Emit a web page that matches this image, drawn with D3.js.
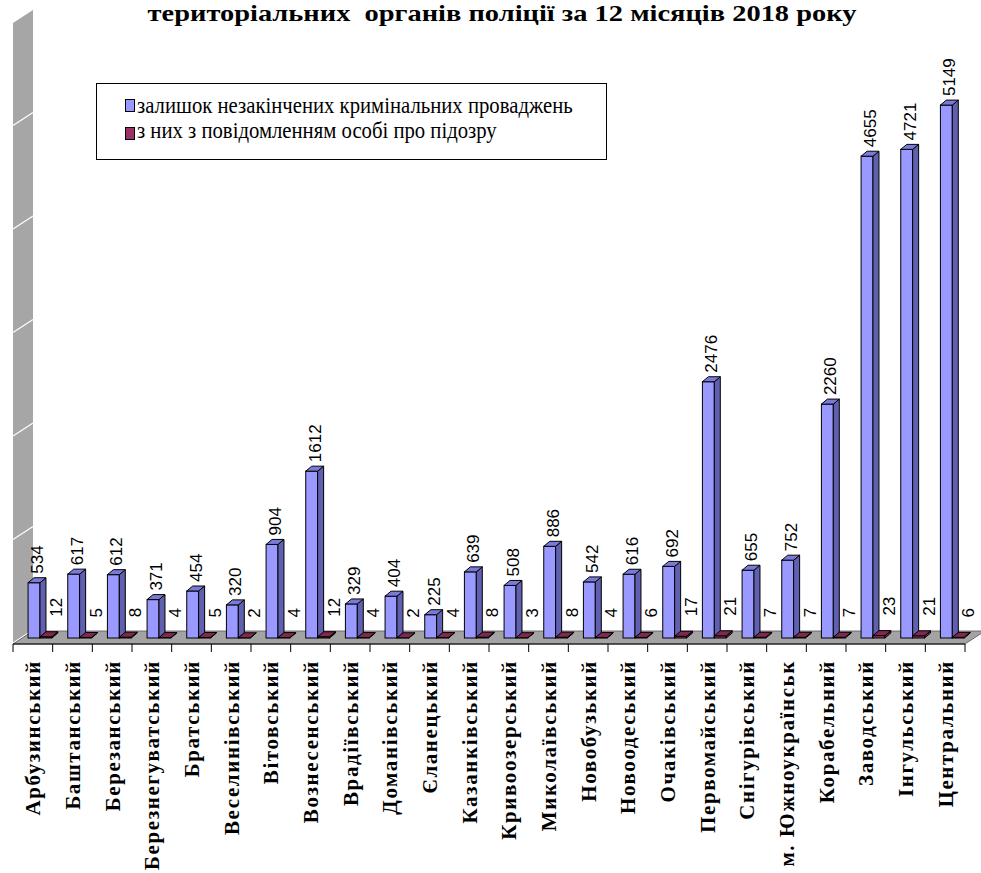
<!DOCTYPE html>
<html><head><meta charset="utf-8">
<script src="https://cdn.jsdelivr.net/npm/d3@7"></script>
<style>
body{margin:0;background:#fff}
text.serif{font-family:"Liberation Serif","Times New Roman",serif}
text.sans{font-family:"Liberation Sans",Arial,sans-serif}
</style></head>
<body><svg id="c" width="981" height="873"></svg>
<script>
const categories = ["Арбузинський","Баштанський","Березанський","Березнегуватський","Братський","Веселинівський","Вітовський","Вознесенський","Врадіївський","Доманівський","Єланецький","Казанківський","Кривоозерський","Миколаївський","Новобузький","Новоодеський","Очаківський","Первомайський","Снігурівський","м. Южноукраїнськ","Корабельний","Заводський","Інгульський","Центральний"];
const pending = [534,617,612,371,454,320,904,1612,329,404,225,639,508,886,542,616,692,2476,655,752,2260,4655,4721,5149];
const suspects = [12,5,8,4,5,2,4,12,4,2,4,8,3,8,4,6,17,21,7,7,7,23,21,6];
const yTicks = [0,1000,2000,3000,4000,5000,6000];
const titleText = "територіальних  органів поліції за 12 місяців 2018 року";
const seriesNames = ["залишок незакінчених кримінальних проваджень","з них з повідомленням особі про підозру"];

const svg = d3.select('#c');
const x = d3.scaleBand().domain(categories).range([13,965]);
const y = d3.scaleLinear().domain([0,6000]).range([638,17]);
const bw = x.bandwidth();
const W = {dx:20, dy:-13};   // wall / floor depth
const B = {dx:6, dy:-5};     // bar depth
const pts = a => a.map(p=>p.join(',')).join(' ');

// wall
const wall = svg.append('g');
wall.append('polygon')
  .attr('points', pts([[13,y(0)+6],[13,y(6000)+6],[13+W.dx,y(6000)+6+W.dy],[13+W.dx,y(0)+6+W.dy]]))
  .attr('fill','#a6a6a6');
wall.selectAll('line').data(yTicks.slice(0,-1)).join('line')
  .attr('x1',13).attr('x2',13+W.dx)
  .attr('y1',d=>y(d)+5).attr('y2',d=>y(d)+5+W.dy)
  .attr('stroke','#fff').attr('stroke-width',1.2);

// floor
const fy = y(0)+6;
svg.append('polygon')
  .attr('points',pts([[13,fy],[965,fy],[965+W.dx,fy+W.dy],[13+W.dx,fy+W.dy]]))
  .attr('fill','#a3a3a3').attr('stroke','#555').attr('stroke-width',0.8);

// x axis
svg.append('line').attr('x1',13).attr('x2',965).attr('y1',fy).attr('y2',fy).attr('stroke','#000');
const ticks = categories.map(c=>x(c)).concat([965]);
svg.selectAll('line.tk').data(ticks).join('line').attr('class','tk')
  .attr('x1',d=>d).attr('x2',d=>d).attr('y1',fy).attr('y2',fy+8).attr('stroke','#000');

function drawBars(vals, off, cols){
  const g = svg.append('g');
  vals.forEach((v,i)=>{
    const xl = x(categories[i]) + off*bw, w = 0.3*bw, xr = xl+w;
    const yt = y(v), yb = y(0);
    g.append('rect').attr('x',xl).attr('y',yt).attr('width',w).attr('height',yb-yt)
      .attr('fill',cols[0]).attr('stroke','#000').attr('stroke-width',1);
    g.append('polygon').attr('points',pts([[xr,yt],[xr+B.dx,yt+B.dy],[xr+B.dx,yb+B.dy],[xr,yb]]))
      .attr('fill',cols[1]).attr('stroke','#000').attr('stroke-width',1);
    g.append('polygon').attr('points',pts([[xl,yt],[xr,yt],[xr+B.dx,yt+B.dy],[xl+B.dx,yt+B.dy]]))
      .attr('fill',cols[2]).attr('stroke','#000').attr('stroke-width',1);
  });
}
drawBars(pending, 0.38, ['#9999ff','#6060b0','#7a7ad8']);
drawBars(suspects, 0.68, ['#993366','#6e2449','#80294f']);

// value labels
svg.append('g').selectAll('text').data(pending).join('text').attr('class','sans')
  .attr('transform',(d,i)=>`translate(${x(categories[i])+0.53*bw+3},${y(d)-9}) rotate(-90)`)
  .attr('dy','0.35em').attr('text-anchor','start')
  .attr('font-size',17)
  .text(d=>d);
svg.append('g').selectAll('text').data(suspects).join('text').attr('class','sans')
  .attr('transform',(d,i)=>`translate(${x(categories[i])+0.83*bw+10},${y(d)-20}) rotate(-90)`)
  .attr('dy','0.35em').attr('text-anchor','start')
  .attr('font-size',17)
  .text(d=>d);

// category labels
svg.append('g').selectAll('text').data(categories).join('text').attr('class','serif')
  .attr('transform',d=>`translate(${x(d)+bw/2},660) rotate(-90)`)
  .attr('dy','0.35em').attr('text-anchor','end')
  .attr('font-weight','bold')
  .attr('font-size',21).attr('letter-spacing','1.6px')
  .text(d=>d);

// title
svg.append('text').attr('class','serif').attr('x',502).attr('y',21).attr('text-anchor','middle')
  .attr('font-weight','bold').attr('font-size',23)
  .style('white-space','pre').text(titleText)
  .each(function(){ const L=this.getComputedTextLength(); if(L>0) d3.select(this).attr('transform',`translate(502,0) scale(${709/L},1) translate(-502,0)`); });

// legend
const lg = svg.append('g');
lg.append('rect').attr('x',96.5).attr('y',83.5).attr('width',510).attr('height',76)
  .attr('fill','#fff').attr('stroke','#000');
const lcols = ['#9999ff','#993366'];
const lw = [436,360];
seriesNames.forEach((n,i)=>{
  lg.append('rect').attr('x',125.5).attr('y',99.5+i*28).attr('width',9).attr('height',12)
    .attr('fill',lcols[i]).attr('stroke','#000');
  lg.append('text').attr('class','serif').attr('x',137).attr('y',113+i*25)
    .attr('font-size',24).text(n)
    .each(function(){ const L=this.getComputedTextLength(); if(L>0) d3.select(this).attr('transform',`translate(137,0) scale(${lw[i]/L},1) translate(-137,0)`); });
});
</script></body></html>
